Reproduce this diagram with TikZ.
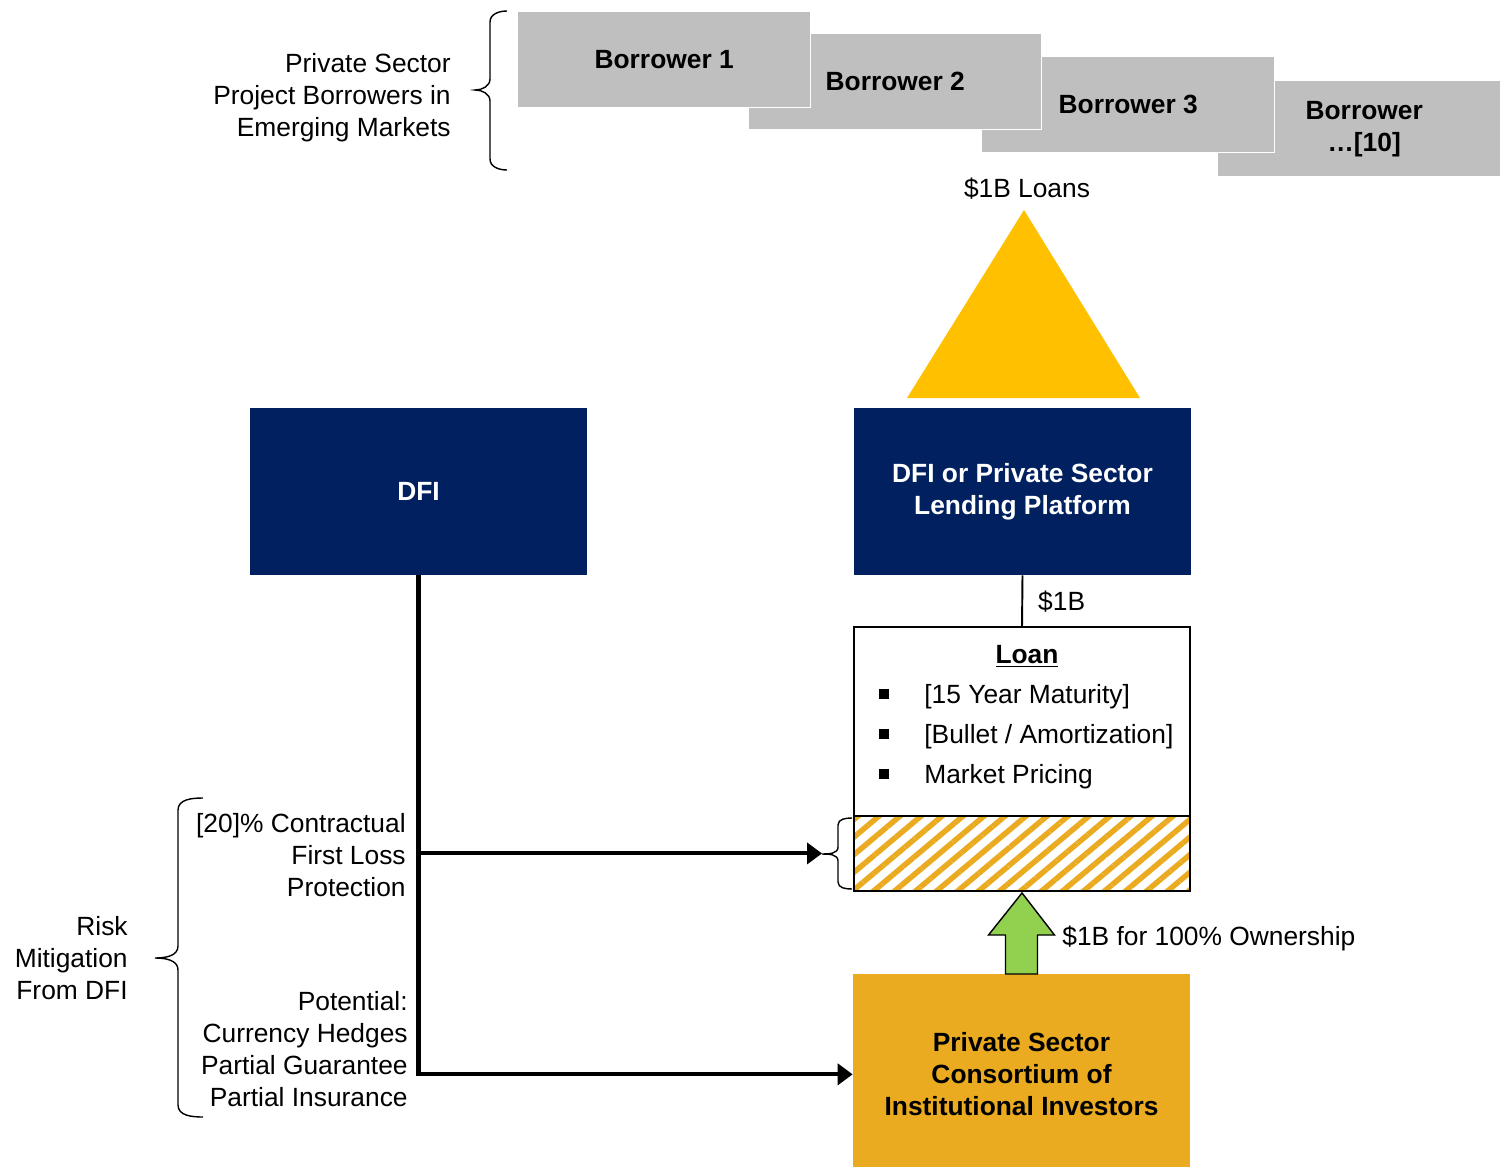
\documentclass[tikz,border=0pt]{standalone}
\usepackage{fontspec}
\setmainfont{Liberation Sans}
\usetikzlibrary{arrows.meta, positioning, calc, patterns.meta}
\definecolor{navy}{RGB}{0,32,96}
\definecolor{boxgray}{RGB}{191,191,191}
\definecolor{amber}{RGB}{255,192,0}
\definecolor{gold}{RGB}{234,171,32}
\definecolor{leafgreen}{RGB}{146,208,80}
\newcommand{\bodyfont}{\fontsize{15}{18.2}\selectfont}
% #1 end x, #2 spine x, #3 tip x, #4 top y, #5 tip y, #6 bottom y, #7 curl
\newcommand{\sidebrace}[7]{%
  \draw[bracepen] (#1,#4) to[out=180,in=90] (#2,#4+#7) -- (#2,#5-#7)
    to[out=-90,in=0] (#3,#5) to[out=0,in=90] (#2,#5+#7) -- (#2,#6-#7)
    to[out=-90,in=180] (#1,#6);}

\begin{document}
\begin{tikzpicture}[x=0.02cm, y=-0.02cm,
  note/.style={font=\bodyfont, inner sep=0pt, align=right},
  borrower/.style={draw=white, line width=0.8pt, fill=boxgray, anchor=north west,
                   minimum width=5.86cm, minimum height=1.92cm, align=center,
                   font=\bodyfont\bfseries},
  navybox/.style={fill=navy, text=white, minimum width=6.74cm, minimum height=3.34cm,
                  align=center, font=\bodyfont\bfseries},
  tranche/.style={draw, line width=1.1pt, outer sep=0pt, minimum width=6.72cm, anchor=north},
  flow/.style={-{Triangle[length=0.3cm, width=0.42cm]}, line width=2.3pt},
  bracepen/.style={line width=0.8pt}]

  \useasboundingbox (0,0) rectangle (1500,1166);

  % borrowers, back to front
  \foreach \i/\x/\y/\t in {4/1217/80/{Borrower\\…[10]}, 3/981/56/{Borrower 3},
                           2/748/33/{Borrower 2}, 1/517/11/{Borrower 1}}
    \node[borrower] (b\i) at (\x,\y) {\t};
  \node[note, anchor=east] (psb) at (451,98) {Private Sector\\Project Borrowers in\\Emerging Markets};
  \sidebrace{507}{490}{475}{11}{90}{170}{11}

  \node[note] (loans) at (1027,189) {\$1B Loans};
  \fill[amber] (1024,210) -- (907,398) -- (1140,398) -- cycle;

  \node[navybox] (dfi)  at (418.5,491.5)  {DFI};
  \node[navybox] (plat) at (1022.5,491.5) {DFI or Private Sector\\Lending Platform};

  % loan and first loss tranche
  \node[tranche, minimum height=3.78cm] (loan) at (1022,627) {};
  \node[tranche, minimum height=1.5cm,
        pattern={Lines[angle=40, distance=0.27cm, line width=0.11cm]}, pattern color=gold]
       (fl) at (loan.south) {};
  \node[font=\bodyfont\bfseries] (ltitle) at (1027,656) {\underline{Loan}};
  \foreach \y/\t [count=\i] in {694/{[15 Year Maturity]}, 734/{[Bullet / Amortization]},
                                774/{Market Pricing}} {
    \node[fill, inner sep=0pt, minimum size=0.2cm] (sq\i) at (884,\y) {};
    \node[note, anchor=west] (item\i) at (924,\y+3) {\t};
  }
  \draw[line width=1.1pt] (plat.south) -- node[note, right=0.3cm] (amt) {\$1B} (loan.north);

  \node[fill=gold, minimum width=6.74cm, minimum height=4cm, anchor=north, align=center,
        font=\bodyfont\bfseries] (cons) at (1021.5,974)
       {Private Sector\\Consortium of\\Institutional Investors};
  \draw[fill=leafgreen, line width=0.8pt]
    ($(cons.north)+(-16,0)$) -- ++(0,-39) -- ++(-17,0) -- ($(fl.south)+(0,2)$)
    -- ($(cons.north)+(33,-39)$) -- ++(-17,0) -- ($(cons.north)+(16,0)$) -- cycle;
  \node[note, anchor=west] (own) at (1062,938) {\$1B for 100\% Ownership};

  % risk mitigation from the DFI
  \coordinate (fltip) at ($(fl.west)+(-32,0)$);
  \sidebrace{852}{838}{822}{818}{854}{889}{7}
  \draw[flow] (dfi.south) |- (cons.west);
  \draw[flow] (dfi.south |- fltip) -- (fltip);

  \node[note, anchor=east] (flp) at (406,855) {[20]\% Contractual\\First Loss\\Protection};
  \node[note, anchor=east] (pot) at (408,1049)
       {Potential:\\Currency Hedges\\Partial Guarantee\\Partial Insurance};
  \sidebrace{203}{178}{155}{798}{958}{1117}{12}
  \node[note, anchor=east] (risk) at (128,958) {Risk\\Mitigation\\From DFI};
\end{tikzpicture}
\end{document}
